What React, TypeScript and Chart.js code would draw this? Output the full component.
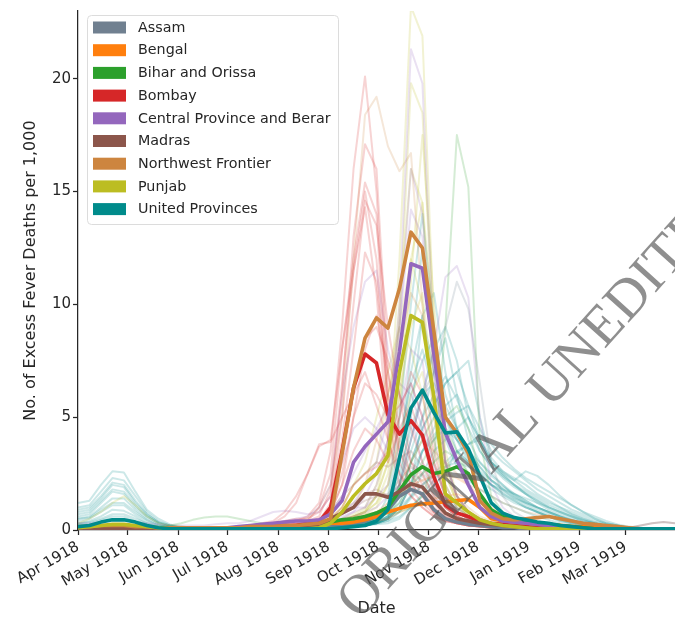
import React, { useEffect, useRef } from 'react';
import { Chart, registerables } from 'chart.js';

Chart.register(...registerables);

// Days since 1 Apr 1918 (weekly observations)
const WEEK_DAYS = [0,7,14,21,28,35,42,49,56,63,70,77,84,91,98,105,112,119,126,133,140,147,154,161,168,175,182,189,196,203,210,217,224,231,238,245,252,259,266,273,280,287,294,301,308,315,322,329,336,343,350,357,364];

const MONTH_TICKS = [0,30,61,91,122,153,183,214,244,275,306,334];
const MONTH_LABELS = ['Apr 1918','May 1918','Jun 1918','Jul 1918','Aug 1918','Sep 1918','Oct 1918','Nov 1918','Dec 1918','Jan 1919','Feb 1919','Mar 1919'];
const Y_TICKS = [0,5,10,15,20];

const PROVINCES = ['Assam','Bengal','Bihar and Orissa','Bombay','Central Province and Berar','Madras','Northwest Frontier','Punjab','United Provinces'];
const COLORS = ['#708090','#ff7f0e','#2ca02c','#d62728','#9467bd','#8c564b','#cd853f','#bcbd22','#008b8b'];

// Province-level series (bold lines)
const ASSAM = [0.05,0.05,0.05,0.05,0.05,0.05,0.05,0.05,0.05,0.05, 0.05,0.05,0.05,0.05,0.05,0.05,0.05,0.05,0.1,0.1, 0.15,0.15,0.2,0.25,0.3,0.4,0.6,0.9,1.5,1.8, 1.6,0.9,0.5,0.35,0.25,0.2,0.15,0.1,0.1,0.05, 0.05,0.05,0.05,0.05,0.05,0.05,0.05,0.05,0.05,0.05, 0.05,0.05,0.05];
const BENGAL = [0.05,0.05,0.05,0.05,0.05,0.05,0.05,0.05,0.05,0.05, 0.05,0.05,0.05,0.05,0.05,0.05,0.05,0.05,0.1,0.15, 0.2,0.25,0.3,0.3,0.35,0.45,0.6,0.8,0.95,1.1, 1.15,1.2,1.25,1.3,1.35,1.0,0.5,0.4,0.35,0.3, 0.3,0.25,0.2,0.15,0.15,0.1,0.1,0.05,0.05,0.05, 0.05,0.05,0.05];
const BIHAR = [0.05,0.05,0.05,0.05,0.05,0.05,0.05,0.05,0.05,0.05, 0.05,0.05,0.05,0.05,0.05,0.05,0.05,0.05,0.05,0.1, 0.1,0.15,0.35,0.45,0.5,0.6,0.75,1.0,1.75,2.45, 2.8,2.5,2.6,2.8,2.5,1.6,0.9,0.6,0.45,0.35, 0.3,0.25,0.2,0.15,0.1,0.05,0.05,0.05,0.05,0.05, 0.05,0.05,0.05];
const BOMBAY = [0.05,0.05,0.05,0.05,0.05,0.05,0.05,0.05,0.05,0.05, 0.05,0.05,0.05,0.05,0.1,0.1,0.15,0.15,0.2,0.2, 0.3,0.35,1.0,3.5,6.3,7.8,7.4,5.1,4.25,4.85, 4.2,2.35,1.1,0.75,0.6,0.4,0.3,0.25,0.2,0.15, 0.1,0.05,0.05,0.05,0.05,0.05,0.05,0.05,0.05,0.05, 0.05,0.05,0.05];
const CENTRAL = [0.1,0.1,0.1,0.1,0.1,0.1,0.1,0.1,0.05,0.05, 0.05,0.05,0.1,0.1,0.15,0.2,0.25,0.3,0.35,0.4, 0.4,0.45,0.7,1.3,3.0,3.7,4.25,4.8,7.9,11.8, 11.6,7.8,4.3,3.1,2.0,1.0,0.6,0.4,0.35,0.3, 0.25,0.2,0.15,0.1,0.05,0.05,0.05,0.05,0.05,0.05, 0.05,0.05,0.05];
const MADRAS = [0.05,0.05,0.05,0.05,0.05,0.05,0.05,0.05,0.05,0.05, 0.05,0.05,0.05,0.05,0.05,0.05,0.05,0.05,0.1,0.1, 0.1,0.2,0.5,0.75,1.0,1.6,1.6,1.45,1.7,2.05, 1.9,1.3,0.75,0.5,0.4,0.3,0.25,0.2,0.15,0.1, 0.05,0.05,0.05,0.05,0.05,0.05,0.05,0.05,0.05,0.05, 0.05,0.05,0.05];
const NWF = [0.15,0.15,0.2,0.2,0.2,0.15,0.15,0.1,0.1,0.1, 0.1,0.1,0.1,0.1,0.1,0.15,0.15,0.15,0.2,0.2, 0.25,0.3,0.5,3.4,6.3,8.5,9.4,8.95,10.7,13.2, 12.5,8.8,5.0,4.3,3.4,1.3,0.75,0.5,0.45,0.5, 0.55,0.6,0.5,0.4,0.3,0.25,0.2,0.15,0.1,0.05, 0.05,0.05,0.05];
const PUNJAB = [0.1,0.15,0.2,0.25,0.25,0.2,0.15,0.1,0.05,0.05, 0.05,0.05,0.05,0.05,0.05,0.05,0.05,0.05,0.05,0.05, 0.05,0.1,0.3,0.8,1.5,2.05,2.5,3.3,7.0,9.5, 9.2,5.9,1.6,1.2,0.8,0.45,0.3,0.2,0.15,0.1, 0.05,0.05,0.05,0.05,0.05,0.05,0.05,0.05,0.05,0.05, 0.05,0.05,0.05];
const UNITED = [0.15,0.2,0.35,0.45,0.45,0.35,0.2,0.1,0.05,0.05, 0.05,0.05,0.05,0.05,0.05,0.05,0.05,0.05,0.05,0.05, 0.05,0.05,0.05,0.1,0.15,0.2,0.4,0.9,3.2,5.4, 6.2,5.2,4.3,4.35,3.6,2.4,1.2,0.75,0.55,0.45, 0.35,0.3,0.2,0.15,0.1,0.05,0.05,0.05,0.05,0.05, 0.05,0.05,0.05];

// District-level series (faint lines)
const BOMBAY_D1 = [0.1,0.1,0.1,0.1,0.1,0.1,0.1,0.1,0.1,0.1, 0.1,0.1,0.1,0.1,0.1,0.1,0.15,0.2,0.3,0.4, 0.6,1.2,3.5,9,16,20.1,15,6,3,2, 1.5,0.8,0.5,0.3,0.2,0.15,0.1,0.1,0.1,0.1, 0.1,0.1,0.05,0.05,0.05,0.05,0.05,0.05,0.05,0.05, 0.05,0.05,0.05];
const BOMBAY_D2 = [0.1,0.1,0.1,0.1,0.1,0.1,0.1,0.1,0.1,0.1, 0.1,0.1,0.1,0.1,0.15,0.2,0.2,0.3,0.4,0.5, 0.5,0.8,1.5,6,13,17.1,16,7,3.5,2.5, 1.8,1,0.6,0.4,0.3,0.2,0.15,0.1,0.1,0.1, 0.1,0.05,0.05,0.05,0.05,0.05,0.05,0.05,0.05,0.05, 0.05,0.05,0.05];
const BOMBAY_D3 = [0.1,0.1,0.1,0.1,0.1,0.1,0.1,0.1,0.1,0.1, 0.1,0.1,0.1,0.1,0.1,0.1,0.15,0.2,0.25,0.3, 0.4,1,2.5,8,12,15.4,14,5,2.5,1.8, 1.2,0.7,0.4,0.3,0.2,0.15,0.1,0.1,0.1,0.1, 0.05,0.05,0.05,0.05,0.05,0.05,0.05,0.05,0.05,0.05, 0.05,0.05,0.05];
const BOMBAY_D4 = [0.1,0.1,0.1,0.1,0.1,0.1,0.1,0.1,0.1,0.1, 0.1,0.1,0.1,0.1,0.15,0.2,0.25,0.3,0.6,1.2, 2.5,3.7,4,8,11.5,15,12,5,4,2.5, 1.5,0.8,0.5,0.3,0.2,0.15,0.1,0.1,0.1,0.1, 0.05,0.05,0.05,0.05,0.05,0.05,0.05,0.05,0.05,0.05, 0.05,0.05,0.05];
const BOMBAY_D5 = [0.1,0.1,0.1,0.1,0.1,0.1,0.1,0.1,0.1,0.1, 0.1,0.1,0.1,0.1,0.1,0.1,0.15,0.2,0.2,0.25, 0.3,0.5,1,5,10,14.6,13.5,9,6,3, 2,1.2,0.6,0.4,0.3,0.2,0.15,0.1,0.1,0.1, 0.05,0.05,0.05,0.05,0.05,0.05,0.05,0.05,0.05,0.05, 0.05,0.05,0.05];
const BOMBAY_D6 = [0.1,0.1,0.1,0.1,0.1,0.1,0.1,0.1,0.1,0.1, 0.1,0.1,0.1,0.1,0.1,0.1,0.1,0.15,0.2,0.3, 0.4,0.6,1.8,6.5,11.5,14.3,10.5,4,2,1.5, 1,0.6,0.4,0.3,0.2,0.15,0.1,0.1,0.1,0.1, 0.05,0.05,0.05,0.05,0.05,0.05,0.05,0.05,0.05,0.05, 0.05,0.05,0.05];
const BOMBAY_D7 = [0.1,0.1,0.1,0.1,0.1,0.1,0.1,0.1,0.1,0.1, 0.1,0.1,0.1,0.1,0.1,0.1,0.1,0.15,0.2,0.25, 0.3,0.4,1.2,4,8,12.3,11,6,3.5,2, 1.5,0.8,0.5,0.3,0.2,0.15,0.1,0.1,0.1,0.1, 0.05,0.05,0.05,0.05,0.05,0.05,0.05,0.05,0.05,0.05, 0.05,0.05,0.05];
const BOMBAY_D8 = [0.1,0.1,0.1,0.1,0.1,0.1,0.1,0.1,0.1,0.1, 0.1,0.1,0.1,0.1,0.1,0.1,0.1,0.1,0.15,0.2, 0.2,0.3,0.8,2,5,8,9.5,7,4.5,3, 2.5,1.5,0.8,0.5,0.3,0.2,0.15,0.1,0.1,0.1, 0.05,0.05,0.05,0.05,0.05,0.05,0.05,0.05,0.05,0.05, 0.05,0.05,0.05];
const BOMBAY_D9 = [0.1,0.1,0.1,0.1,0.1,0.1,0.1,0.1,0.1,0.1, 0.1,0.1,0.1,0.1,0.15,0.2,0.3,0.4,0.8,1.5, 2.5,3.8,3.9,5,6,7,5.5,4,2.5,1.5, 1,0.6,0.4,0.3,0.2,0.15,0.1,0.1,0.1,0.1, 0.05,0.05,0.05,0.05,0.05,0.05,0.05,0.05,0.05,0.05, 0.05,0.05,0.05];
const BOMBAY_D10 = [0.1,0.1,0.1,0.1,0.1,0.1,0.1,0.1,0.1,0.1, 0.1,0.1,0.1,0.1,0.1,0.1,0.1,0.1,0.15,0.2, 0.2,0.3,0.8,2,3.5,4.5,4,3,4.5,5.5, 4,2,1,0.6,0.4,0.3,0.2,0.15,0.1,0.1, 0.05,0.05,0.05,0.05,0.05,0.05,0.05,0.05,0.05,0.05, 0.05,0.05,0.05];
const BOMBAY_D11 = [0.1,0.1,0.1,0.1,0.1,0.1,0.1,0.1,0.1,0.1, 0.1,0.1,0.1,0.1,0.1,0.1,0.1,0.1,0.15,0.2, 0.2,0.3,0.5,1,2,2.5,2.8,3.5,5,7, 6,3.5,1.5,0.8,0.5,0.3,0.2,0.15,0.1,0.1, 0.1,0.05,0.05,0.05,0.05,0.05,0.05,0.05,0.1,0.2, 0.3,0.35,0.3];
const BOMBAY_D12 = [0.1,0.1,0.1,0.1,0.1,0.1,0.1,0.1,0.1,0.1, 0.1,0.1,0.1,0.1,0.1,0.1,0.1,0.1,0.1,0.1, 0.2,0.4,1,3,6,8.5,9,7.5,6,4.5, 3,1.8,1,0.6,0.4,0.3,0.2,0.15,0.1,0.1, 0.05,0.05,0.05,0.05,0.05,0.05,0.05,0.05,0.05,0.05, 0.05,0.05,0.05];
const BOMBAY_D13 = [0.1,0.1,0.1,0.1,0.1,0.1,0.1,0.1,0.1,0.1, 0.1,0.1,0.1,0.1,0.1,0.1,0.1,0.1,0.1,0.1, 0.2,0.3,0.8,2.5,5,6.5,6,5,5.5,6.5, 5,3,1.5,0.8,0.5,0.3,0.2,0.15,0.1,0.1, 0.05,0.05,0.05,0.05,0.05,0.05,0.05,0.05,0.05,0.05, 0.05,0.05,0.05];

const CENTRAL_D1 = [0.1,0.1,0.1,0.1,0.1,0.1,0.1,0.1,0.1,0.1, 0.1,0.1,0.1,0.1,0.1,0.1,0.1,0.1,0.1,0.1, 0.2,0.3,0.5,0.8,1,1,2,4,10,21.3, 19.8,8,3,1.5,0.8,0.5,0.3,0.2,0.15,0.1, 0.1,0.1,0.05,0.05,0.05,0.05,0.05,0.05,0.05,0.05, 0.05,0.05,0.05];
const CENTRAL_D2 = [0.1,0.1,0.1,0.1,0.1,0.1,0.1,0.1,0.1,0.1, 0.1,0.1,0.1,0.1,0.1,0.1,0.1,0.1,0.1,0.1, 0.2,0.3,0.5,0.6,0.8,1.5,2.5,4,9,14.2, 13,7,3,1.5,0.8,0.5,0.3,0.2,0.15,0.1, 0.1,0.1,0.05,0.05,0.05,0.05,0.05,0.05,0.05,0.05, 0.05,0.05,0.05];
const CENTRAL_D3 = [0.1,0.1,0.1,0.1,0.1,0.1,0.1,0.1,0.1,0.1, 0.1,0.1,0.1,0.1,0.15,0.2,0.25,0.3,0.4,0.5, 0.6,1,2,6,9,11,11.5,8,6,5, 3,2,1.2,0.8,0.5,0.3,0.2,0.15,0.1,0.1, 0.1,0.1,0.05,0.05,0.05,0.05,0.05,0.05,0.05,0.05, 0.05,0.05,0.05];
const CENTRAL_D4 = [0.1,0.1,0.1,0.1,0.1,0.1,0.1,0.1,0.1,0.1, 0.1,0.1,0.1,0.1,0.1,0.1,0.1,0.1,0.1,0.1, 0.2,0.3,0.4,0.5,0.6,0.8,1,1.5,2,4, 6,8,11.2,11.7,10.3,5,2,1,0.6,0.4, 0.3,0.2,0.15,0.1,0.1,0.05,0.05,0.05,0.05,0.05, 0.05,0.05,0.05];
const CENTRAL_D5 = [0.1,0.1,0.1,0.1,0.1,0.1,0.1,0.1,0.1,0.1, 0.1,0.1,0.1,0.1,0.1,0.1,0.1,0.1,0.1,0.1, 0.2,0.3,0.4,0.5,0.8,1,1.5,2,5,8, 7.5,4,2,1,0.6,0.4,0.3,0.2,0.15,0.1, 0.1,0.1,0.05,0.05,0.05,0.05,0.05,0.05,0.05,0.05, 0.05,0.05,0.05];
const CENTRAL_D6 = [0.3,0.3,0.35,0.4,0.4,0.35,0.3,0.25,0.2,0.2, 0.2,0.2,0.25,0.3,0.3,0.4,0.6,0.8,0.85,0.8, 0.7,0.8,1.5,3,4.5,5,4.5,3.5,5.5,6.5, 5,3,1.5,0.8,0.5,0.3,0.2,0.15,0.1,0.1, 0.1,0.1,0.05,0.05,0.05,0.05,0.05,0.05,0.05,0.05, 0.05,0.05,0.05];
const CENTRAL_D7 = [0.1,0.1,0.1,0.1,0.1,0.1,0.1,0.1,0.1,0.1, 0.1,0.1,0.1,0.1,0.1,0.1,0.1,0.1,0.1,0.1, 0.2,0.3,0.5,0.8,1.2,2,3,5,9,16, 14,7,3,1.5,0.8,0.5,0.3,0.2,0.15,0.1, 0.1,0.1,0.05,0.05,0.05,0.05,0.05,0.05,0.05,0.05, 0.05,0.05,0.05];
const CENTRAL_D8 = [0.1,0.1,0.1,0.1,0.1,0.1,0.1,0.1,0.1,0.1, 0.1,0.1,0.1,0.1,0.1,0.1,0.1,0.1,0.1,0.1, 0.2,0.4,0.8,1.5,2.5,3.5,4.5,5.5,6.5,6, 4.5,2.8,1.5,0.8,0.5,0.3,0.2,0.15,0.1,0.1, 0.1,0.1,0.05,0.05,0.05,0.05,0.05,0.05,0.05,0.05, 0.05,0.05,0.05];

const PUNJAB_D1 = [0.1,0.1,0.1,0.1,0.1,0.1,0.1,0.1,0.1,0.1, 0.1,0.1,0.1,0.1,0.1,0.1,0.1,0.1,0.1,0.1, 0.1,0.2,0.3,0.4,0.6,0.8,1.5,4,12,23.2, 21.9,9,3,1.5,0.8,0.5,0.3,0.2,0.1,0.1, 0.05,0.05,0.05,0.05,0.05,0.05,0.05,0.05,0.05,0.05, 0.05,0.05,0.05];
const PUNJAB_D2 = [0.1,0.1,0.1,0.1,0.1,0.1,0.1,0.1,0.1,0.1, 0.1,0.1,0.1,0.1,0.1,0.1,0.1,0.1,0.1,0.1, 0.1,0.2,0.3,0.4,0.6,0.8,1.5,3,9,19.8, 18.5,8,2.5,1.2,0.6,0.4,0.3,0.2,0.1,0.1, 0.05,0.05,0.05,0.05,0.05,0.05,0.05,0.05,0.05,0.05, 0.05,0.05,0.05];
const PUNJAB_D3 = [0.1,0.1,0.1,0.1,0.1,0.1,0.1,0.1,0.1,0.1, 0.1,0.1,0.1,0.1,0.1,0.1,0.1,0.1,0.1,0.1, 0.1,0.2,0.3,0.5,0.7,1,2,3.5,10,16, 14.5,6,2,1,0.6,0.4,0.3,0.2,0.1,0.1, 0.05,0.05,0.05,0.05,0.05,0.05,0.05,0.05,0.05,0.05, 0.05,0.05,0.05];
const PUNJAB_D4 = [0.1,0.1,0.1,0.1,0.1,0.1,0.1,0.1,0.1,0.1, 0.1,0.1,0.1,0.1,0.1,0.1,0.1,0.1,0.1,0.1, 0.1,0.2,0.3,0.4,0.6,0.8,1.2,2.5,6,12, 14.5,9,3,1.2,0.6,0.4,0.3,0.2,0.1,0.1, 0.05,0.05,0.05,0.05,0.05,0.05,0.05,0.05,0.05,0.05, 0.05,0.05,0.05];
const PUNJAB_D5 = [0.1,0.1,0.1,0.1,0.1,0.1,0.1,0.1,0.1,0.1, 0.1,0.1,0.1,0.1,0.1,0.1,0.1,0.1,0.1,0.1, 0.2,0.3,0.5,1,2,2.5,3,6,9,12, 10,5,2,1,0.6,0.4,0.3,0.2,0.1,0.1, 0.05,0.05,0.05,0.05,0.05,0.05,0.05,0.05,0.05,0.05, 0.05,0.05,0.05];
const PUNJAB_D6 = [0.1,0.1,0.1,0.1,0.1,0.1,0.1,0.1,0.1,0.1, 0.1,0.1,0.1,0.1,0.1,0.1,0.1,0.1,0.1,0.1, 0.2,0.3,0.5,1,2,3,5,7,9,8, 6,3,1.5,0.8,0.5,0.3,0.2,0.15,0.1,0.1, 0.05,0.05,0.05,0.05,0.05,0.05,0.05,0.05,0.05,0.05, 0.05,0.05,0.05];
const PUNJAB_D7 = [0.3,0.5,0.8,1.2,1.5,1.1,0.6,0.3,0.2,0.15, 0.1,0.1,0.1,0.1,0.1,0.1,0.1,0.1,0.1,0.1, 0.1,0.2,0.3,0.4,0.5,0.7,1,2,4,6, 7,4,1.5,0.8,0.5,0.3,0.2,0.15,0.1,0.1, 0.05,0.05,0.05,0.05,0.05,0.05,0.05,0.05,0.05,0.05, 0.05,0.05,0.05];
const PUNJAB_D8 = [0.1,0.1,0.1,0.1,0.1,0.1,0.1,0.1,0.1,0.1, 0.1,0.1,0.1,0.1,0.1,0.1,0.1,0.1,0.1,0.1, 0.1,0.2,0.3,0.4,0.6,0.8,1.2,2,5,11, 17.5,10,3.5,1.5,0.8,0.5,0.3,0.2,0.1,0.1, 0.05,0.05,0.05,0.05,0.05,0.05,0.05,0.05,0.05,0.05, 0.05,0.05,0.05];
const PUNJAB_D9 = [0.1,0.1,0.1,0.1,0.1,0.1,0.1,0.1,0.1,0.1, 0.1,0.1,0.1,0.1,0.1,0.1,0.1,0.1,0.1,0.1, 0.1,0.2,0.3,0.4,0.6,0.9,1.5,3,6,9, 10.5,6,2.5,1.2,0.6,0.4,0.3,0.2,0.1,0.1, 0.05,0.05,0.05,0.05,0.05,0.05,0.05,0.05,0.05,0.05, 0.05,0.05,0.05];

const NWF_D1 = [0.1,0.1,0.1,0.1,0.1,0.1,0.1,0.1,0.1,0.1, 0.1,0.1,0.1,0.1,0.1,0.15,0.2,0.25,0.3,0.4, 0.5,1,2,5,12,18.4,19.2,17,15.9,16.7, 10,5,2.5,1.5,1,0.6,0.4,0.3,0.2,0.15, 0.1,0.1,0.1,0.05,0.05,0.05,0.05,0.05,0.05,0.05, 0.05,0.05,0.05];
const NWF_D2 = [0.1,0.1,0.1,0.1,0.1,0.1,0.1,0.1,0.1,0.1, 0.1,0.1,0.1,0.1,0.1,0.1,0.1,0.1,0.15,0.2, 0.2,0.3,0.5,0.8,1,2,4,6,8,10.5, 9.5,6,3,1.5,0.8,0.5,0.3,0.2,0.15,0.1, 0.1,0.1,0.05,0.05,0.05,0.05,0.05,0.05,0.05,0.05, 0.05,0.05,0.05];
const NWF_D3 = [0.1,0.1,0.1,0.1,0.1,0.1,0.1,0.1,0.1,0.1, 0.1,0.1,0.1,0.1,0.1,0.1,0.1,0.1,0.15,0.2, 0.2,0.3,0.4,0.5,0.6,0.7,0.8,1,2,3, 4,3.5,3,2.5,2,1.8,1.5,1.2,1,0.8, 0.7,0.6,0.5,0.4,0.3,0.2,0.15,0.1,0.1,0.05, 0.05,0.05,0.05];

const UNITED_D1 = [1.2,1.3,2,2.6,2.55,1.7,0.9,0.5,0.25,0.15, 0.1,0.1,0.1,0.1,0.1,0.1,0.1,0.1,0.1,0.1, 0.1,0.1,0.15,0.2,0.25,0.3,0.5,1.5,5,10, 14,9,5,3.5,3,2.5,2,1.6,1.3,1, 0.8,0.6,0.5,0.4,0.3,0.2,0.15,0.1,0.1,0.05, 0.05,0.05,0.05];
const UNITED_D2 = [1,1.1,1.7,2.3,2.2,1.5,0.8,0.4,0.2,0.1, 0.1,0.1,0.1,0.1,0.1,0.1,0.1,0.1,0.1,0.1, 0.1,0.1,0.1,0.15,0.2,0.3,0.5,1,2,4, 6,8,9,7.5,5,3.5,2.8,2.4,2,1.7, 1.4,1.1,0.9,0.7,0.5,0.35,0.25,0.15,0.1,0.05, 0.05,0.05,0.05];
const UNITED_D3 = [0.8,0.9,1.4,2,1.9,1.2,0.7,0.35,0.2,0.1, 0.1,0.1,0.1,0.1,0.1,0.1,0.1,0.1,0.1,0.1, 0.1,0.1,0.1,0.15,0.2,0.3,0.4,1.2,4,6.5, 8,6,5,4,3.2,2.6,2.2,1.9,1.6,1.3, 1,0.8,0.6,0.45,0.3,0.2,0.1,0.1,0.05,0.05, 0.05,0.05,0.05];
const UNITED_D4 = [0.6,0.7,1.2,1.7,1.6,1,0.6,0.3,0.15,0.1, 0.1,0.1,0.1,0.1,0.1,0.1,0.1,0.1,0.1,0.1, 0.1,0.1,0.1,0.15,0.2,0.3,0.5,0.8,1.5,3, 4.5,5.5,6.5,7,7.5,5,3,2.5,2.2,1.8, 1.5,1.2,1,0.8,0.6,0.4,0.3,0.2,0.1,0.05, 0.05,0.05,0.05];
const UNITED_D5 = [0.5,0.6,1,1.4,1.4,0.9,0.5,0.25,0.1,0.1, 0.1,0.1,0.1,0.1,0.1,0.1,0.1,0.1,0.1,0.1, 0.1,0.1,0.1,0.15,0.2,0.3,0.4,0.8,2.5,4.5, 6,6.5,5.5,4.5,3.5,2.8,2.2,1.8,1.4,1.1, 0.8,0.6,0.4,0.3,0.2,0.15,0.1,0.05,0.05,0.05, 0.05,0.05,0.05];
const UNITED_D6 = [0.4,0.5,0.8,1.1,1.1,0.7,0.4,0.2,0.1,0.1, 0.1,0.1,0.1,0.1,0.1,0.1,0.1,0.1,0.1,0.1, 0.1,0.1,0.1,0.15,0.2,0.3,0.4,0.6,1,2, 3.5,4.5,5.5,6,5,4,3,2.6,2.3,2, 1.6,1.3,1,0.7,0.5,0.3,0.2,0.1,0.05,0.05, 0.05,0.05,0.05];
const UNITED_D7 = [0.3,0.4,0.6,0.9,0.85,0.6,0.3,0.15,0.1,0.1, 0.1,0.1,0.1,0.1,0.1,0.1,0.1,0.1,0.1,0.1, 0.1,0.1,0.1,0.1,0.15,0.2,0.3,0.5,0.8,1.5, 2.5,3.5,4,4.5,5,4,3,2.5,2,1.6, 1.2,0.9,0.7,0.5,0.35,0.25,0.15,0.1,0.05,0.05, 0.05,0.05,0.05];
const UNITED_D8 = [0.3,0.35,0.5,0.7,0.7,0.5,0.3,0.1,0.1,0.1, 0.1,0.1,0.1,0.1,0.1,0.1,0.1,0.1,0.1,0.1, 0.1,0.1,0.1,0.1,0.15,0.2,0.3,0.5,1,2, 3.5,4,4.5,4,3.5,3,2.5,2,1.5,1.2, 1,0.8,0.6,0.4,0.3,0.2,0.1,0.05,0.05,0.05, 0.05,0.05,0.05];
const UNITED_D9 = [0.2,0.25,0.35,0.5,0.5,0.35,0.2,0.1,0.1,0.1, 0.1,0.1,0.1,0.1,0.1,0.1,0.1,0.1,0.1,0.1, 0.1,0.1,0.1,0.1,0.15,0.2,0.3,0.5,1,1.5, 2,2.5,3,3.5,3.8,4,3.2,2.6,2.2,2.6, 2.4,2,1.5,1.1,0.8,0.5,0.3,0.2,0.1,0.05, 0.05,0.05,0.05];
const UNITED_D10 = [0.1,0.1,0.1,0.1,0.1,0.1,0.1,0.1,0.1,0.1, 0.1,0.1,0.1,0.1,0.1,0.1,0.1,0.1,0.1,0.1, 0.1,0.1,0.1,0.1,0.15,0.2,0.25,0.3,0.5,1, 1.5,2,2.5,3.5,3,2.5,2,1.8,1.6,1.4, 1.2,1,0.8,0.6,0.4,0.3,0.2,0.1,0.1,0.2, 0.3,0.35,0.3];
const UNITED_D11 = [0.1,0.1,0.1,0.1,0.1,0.1,0.1,0.1,0.1,0.1, 0.1,0.1,0.1,0.1,0.1,0.1,0.1,0.1,0.1,0.1, 0.1,0.1,0.1,0.1,0.15,0.2,0.3,0.5,1,2, 5,7,8.5,6,4,3,2.4,2,1.6,1.3, 1,0.8,0.6,0.4,0.3,0.2,0.1,0.05,0.05,0.05, 0.05,0.05,0.05];
const UNITED_D12 = [0.1,0.1,0.1,0.1,0.1,0.1,0.1,0.1,0.1,0.1, 0.1,0.1,0.1,0.1,0.1,0.1,0.1,0.1,0.1,0.1, 0.1,0.1,0.1,0.1,0.15,0.2,0.3,0.6,2,5, 9.5,7,5,4,3,2.2,1.8,1.5,1.2,1, 0.8,0.6,0.4,0.3,0.2,0.1,0.05,0.05,0.05,0.05, 0.05,0.05,0.05];
const UNITED_D13 = [0.25,0.3,0.45,0.6,0.6,0.4,0.25,0.1,0.1,0.1, 0.1,0.1,0.1,0.1,0.1,0.1,0.1,0.1,0.1,0.1, 0.1,0.1,0.1,0.1,0.15,0.2,0.3,0.5,1.5,3, 4.5,5.5,6.5,7,5.5,4,3,2.4,2,1.6, 1.3,1,0.8,0.6,0.4,0.3,0.2,0.1,0.05,0.05, 0.05,0.05,0.05];
const UNITED_D14 = [0.9,1,1.5,2.1,2,1.3,0.7,0.35,0.2,0.1, 0.1,0.1,0.1,0.1,0.1,0.1,0.1,0.1,0.1,0.1, 0.1,0.1,0.1,0.15,0.2,0.3,0.4,0.6,1.2,2.5, 3.5,4.2,4.8,5.2,5.5,4.5,3.5,3,2.6,2.2, 1.8,1.5,1.2,0.9,0.7,0.5,0.3,0.2,0.1,0.05, 0.05,0.05,0.05];
const UNITED_D15 = [0.1,0.1,0.1,0.1,0.1,0.1,0.1,0.1,0.1,0.1, 0.1,0.1,0.1,0.1,0.1,0.1,0.1,0.1,0.1,0.1, 0.1,0.1,0.1,0.15,0.2,0.3,0.5,1,3,6, 7.5,8.5,6,4.5,3.5,2.8,2.2,1.8,1.5,1.2, 0.9,0.7,0.5,0.35,0.25,0.15,0.1,0.05,0.05,0.05, 0.05,0.05,0.05];
const UNITED_D16 = [0.7,0.8,1.3,1.8,1.7,1.1,0.6,0.3,0.15,0.1, 0.1,0.1,0.1,0.1,0.1,0.1,0.1,0.1,0.1,0.1, 0.1,0.1,0.1,0.1,0.15,0.2,0.4,0.8,2,3.5, 5,6,6.8,5.8,4.5,3.5,2.8,2.3,1.9,1.6, 1.3,1,0.8,0.6,0.45,0.3,0.2,0.1,0.05,0.05, 0.05,0.05,0.05];
const UNITED_D17 = [0.1,0.1,0.1,0.1,0.1,0.1,0.1,0.1,0.1,0.1, 0.1,0.1,0.1,0.1,0.1,0.1,0.1,0.1,0.1,0.1, 0.1,0.1,0.1,0.1,0.15,0.2,0.3,0.4,0.6,1, 1.6,2.2,2.8,3.4,3.8,4.2,3.8,3.2,2.7,2.3, 2,1.7,1.4,1.1,0.8,0.6,0.4,0.25,0.15,0.1, 0.05,0.05,0.05];
const UNITED_D18 = [0.1,0.1,0.1,0.1,0.1,0.1,0.1,0.1,0.1,0.1, 0.1,0.1,0.1,0.1,0.1,0.1,0.1,0.1,0.1,0.1, 0.1,0.1,0.1,0.1,0.15,0.25,0.4,0.8,3,7, 9.5,10.5,7,4.5,3.2,2.5,2,1.6,1.3,1, 0.8,0.6,0.45,0.3,0.2,0.1,0.05,0.05,0.05,0.05, 0.05,0.05,0.05];
const UNITED_D19 = [0.5,0.55,0.9,1.2,1.2,0.8,0.45,0.2,0.1,0.1, 0.1,0.1,0.1,0.1,0.1,0.1,0.1,0.1,0.1,0.1, 0.1,0.1,0.1,0.1,0.15,0.2,0.3,0.4,0.8,1.4, 2,2.4,2.8,3,2.8,2.4,2,1.7,1.4,1.2, 1,0.8,0.6,0.45,0.3,0.2,0.15,0.1,0.05,0.05, 0.05,0.05,0.05];
const UNITED_D20 = [0.1,0.1,0.1,0.1,0.1,0.1,0.1,0.1,0.1,0.1, 0.1,0.1,0.1,0.1,0.1,0.1,0.1,0.1,0.1,0.1, 0.1,0.1,0.1,0.1,0.15,0.2,0.3,0.6,3,8, 12.5,8,4,2.8,2.2,1.8,1.5,1.2,1,0.8, 0.6,0.45,0.3,0.2,0.15,0.1,0.05,0.05,0.05,0.05, 0.05,0.05,0.05];

const BIHAR_D1 = [0.1,0.1,0.1,0.1,0.1,0.1,0.1,0.1,0.1,0.1, 0.1,0.1,0.1,0.1,0.1,0.1,0.1,0.1,0.1,0.1, 0.1,0.1,0.2,0.3,0.4,0.5,0.6,0.7,0.8,1, 1.5,3,9,17.5,15.2,4,1.5,0.8,0.5,0.3, 0.2,0.15,0.1,0.1,0.05,0.05,0.05,0.05,0.05,0.05, 0.05,0.05,0.05];
const BIHAR_D2 = [0.1,0.1,0.1,0.1,0.1,0.1,0.1,0.15,0.2,0.3, 0.45,0.55,0.6,0.6,0.5,0.4,0.3,0.25,0.2,0.2, 0.2,0.2,0.3,0.4,0.5,0.6,0.8,1,1.5,3, 4,5,4.5,3.5,2.5,1.5,0.8,0.5,0.3,0.2, 0.15,0.1,0.1,0.05,0.05,0.05,0.05,0.05,0.05,0.05, 0.05,0.05,0.05];
const BIHAR_D3 = [0.1,0.1,0.1,0.1,0.1,0.1,0.1,0.1,0.1,0.1, 0.1,0.1,0.1,0.1,0.1,0.1,0.1,0.1,0.1,0.1, 0.1,0.1,0.2,0.3,0.4,0.5,0.6,0.8,1.5,2, 2.5,3,3.5,3.2,2.5,1.5,0.8,0.5,0.3,0.2, 0.15,0.1,0.1,0.05,0.05,0.05,0.05,0.05,0.05,0.05, 0.05,0.05,0.05];
const BIHAR_D4 = [0.1,0.1,0.1,0.1,0.1,0.1,0.1,0.1,0.1,0.1, 0.1,0.1,0.1,0.1,0.1,0.1,0.1,0.1,0.1,0.1, 0.1,0.1,0.2,0.3,0.4,0.5,0.6,0.8,1.2,2, 3,4,5,5.5,4.5,2.5,1.2,0.6,0.4,0.3, 0.2,0.15,0.1,0.1,0.05,0.05,0.05,0.05,0.05,0.05, 0.05,0.05,0.05];

const MADRAS_D1 = [0.1,0.1,0.1,0.1,0.1,0.1,0.1,0.1,0.1,0.1, 0.1,0.1,0.1,0.1,0.1,0.1,0.1,0.1,0.1,0.15, 0.2,0.4,0.8,1.5,2,2.5,3,2.8,3.2,3.5, 2.8,1.8,1,0.6,0.4,0.3,0.2,0.15,0.1,0.1, 0.05,0.05,0.05,0.05,0.05,0.05,0.05,0.05,0.05,0.05, 0.05,0.05,0.05];
const MADRAS_D2 = [0.1,0.1,0.1,0.1,0.1,0.1,0.1,0.1,0.1,0.1, 0.1,0.1,0.1,0.1,0.1,0.1,0.1,0.1,0.1,0.15, 0.2,0.3,0.5,0.8,1.2,1.6,1.8,1.5,2,2.5, 2.2,1.5,0.8,0.5,0.3,0.2,0.15,0.1,0.1,0.1, 0.05,0.05,0.05,0.05,0.05,0.05,0.05,0.05,0.05,0.05, 0.05,0.05,0.05];
const MADRAS_D3 = [0.1,0.1,0.1,0.1,0.1,0.1,0.1,0.1,0.1,0.1, 0.1,0.1,0.1,0.1,0.1,0.1,0.1,0.1,0.1,0.1, 0.15,0.25,0.4,0.7,1,1.3,1.5,1.6,2.2,2.8, 2.4,1.6,1,0.6,0.4,0.3,0.2,0.15,0.1,0.1, 0.05,0.05,0.05,0.05,0.05,0.05,0.05,0.05,0.05,0.05, 0.05,0.05,0.05];

const BENGAL_D1 = [0.1,0.1,0.1,0.1,0.1,0.1,0.1,0.1,0.1,0.1, 0.1,0.1,0.1,0.1,0.1,0.1,0.1,0.1,0.1,0.15, 0.2,0.25,0.3,0.35,0.4,0.5,0.8,1.2,1.6,2, 2.2,2.4,2.5,2.3,2,1.5,1,0.7,0.5,0.4, 0.35,0.3,0.25,0.2,0.15,0.1,0.1,0.05,0.05,0.05, 0.05,0.05,0.05];
const BENGAL_D2 = [0.1,0.1,0.1,0.1,0.1,0.1,0.1,0.1,0.1,0.1, 0.1,0.1,0.1,0.1,0.1,0.1,0.1,0.1,0.1,0.1, 0.1,0.15,0.2,0.25,0.3,0.35,0.4,0.5,0.8,1, 1.2,1.4,1.5,1.6,1.4,1,0.6,0.4,0.3,0.2, 0.15,0.1,0.1,0.05,0.05,0.05,0.05,0.05,0.05,0.05, 0.05,0.05,0.05];

const ASSAM_D1 = [0.1,0.1,0.1,0.1,0.1,0.1,0.1,0.1,0.1,0.1, 0.1,0.1,0.1,0.1,0.1,0.1,0.1,0.1,0.1,0.1, 0.1,0.15,0.2,0.3,0.4,0.5,0.7,1,2,4, 6,7,9,11,9.8,6.5,3,1.5,0.8,0.5, 0.3,0.2,0.1,0.1,0.05,0.05,0.05,0.05,0.05,0.05, 0.05,0.05,0.05];
const ASSAM_D2 = [0.1,0.1,0.1,0.1,0.1,0.1,0.1,0.1,0.1,0.1, 0.1,0.1,0.1,0.1,0.1,0.1,0.1,0.1,0.1,0.1, 0.1,0.1,0.15,0.2,0.25,0.3,0.4,0.5,1,2, 2.5,2,1.5,1,0.6,0.4,0.3,0.2,0.15,0.1, 0.1,0.05,0.05,0.05,0.05,0.05,0.05,0.05,0.05,0.05, 0.05,0.05,0.05];

const PROVINCE_SERIES = [ASSAM, BENGAL, BIHAR, BOMBAY, CENTRAL, MADRAS, NWF, PUNJAB, UNITED];
const DISTRICT_SERIES = [
  [ASSAM_D1, ASSAM_D2],
  [BENGAL_D1, BENGAL_D2],
  [BIHAR_D1, BIHAR_D2, BIHAR_D3, BIHAR_D4],
  [BOMBAY_D1, BOMBAY_D2, BOMBAY_D3, BOMBAY_D4, BOMBAY_D5, BOMBAY_D6, BOMBAY_D7, BOMBAY_D8, BOMBAY_D9, BOMBAY_D10, BOMBAY_D11, BOMBAY_D12, BOMBAY_D13],
  [CENTRAL_D1, CENTRAL_D2, CENTRAL_D3, CENTRAL_D4, CENTRAL_D5, CENTRAL_D6, CENTRAL_D7, CENTRAL_D8],
  [MADRAS_D1, MADRAS_D2, MADRAS_D3],
  [NWF_D1, NWF_D2, NWF_D3],
  [PUNJAB_D1, PUNJAB_D2, PUNJAB_D3, PUNJAB_D4, PUNJAB_D5, PUNJAB_D6, PUNJAB_D7, PUNJAB_D8, PUNJAB_D9],
  [UNITED_D1, UNITED_D2, UNITED_D3, UNITED_D4, UNITED_D5, UNITED_D6, UNITED_D7, UNITED_D8, UNITED_D9, UNITED_D10, UNITED_D11, UNITED_D12, UNITED_D13, UNITED_D14, UNITED_D15, UNITED_D16, UNITED_D17, UNITED_D18, UNITED_D19, UNITED_D20],
];

const FONT = "'DejaVu Sans', sans-serif";
const TEXT_COLOR = '#262626';

function hexA(hex: string, a: number) {
  const n = parseInt(hex.slice(1), 16);
  return `rgba(${(n >> 16) & 255},${(n >> 8) & 255},${n & 255},${a})`;
}

const overlayPlugin = {
  id: 'overlay',
  afterDraw(chart: any) {
    const ctx = chart.ctx as CanvasRenderingContext2D;
    ctx.save();
    // legend box
    const bx = 87.5, by = 15.5, bw = 251, bh = 209, r = 4;
    ctx.beginPath();
    ctx.moveTo(bx + r, by);
    ctx.arcTo(bx + bw, by, bx + bw, by + bh, r);
    ctx.arcTo(bx + bw, by + bh, bx, by + bh, r);
    ctx.arcTo(bx, by + bh, bx, by, r);
    ctx.arcTo(bx, by, bx + bw, by, r);
    ctx.closePath();
    ctx.fillStyle = 'rgba(255,255,255,0.85)';
    ctx.fill();
    ctx.strokeStyle = '#dcdcdc';
    ctx.lineWidth = 1;
    ctx.stroke();
    ctx.font = `14.3px ${FONT}`;
    ctx.textBaseline = 'middle';
    ctx.textAlign = 'left';
    PROVINCES.forEach((name, i) => {
      const cy = 27.5 + i * 22.7;
      ctx.fillStyle = COLORS[i];
      ctx.fillRect(93, cy - 6, 33, 12);
      ctx.fillStyle = TEXT_COLOR;
      ctx.fillText(name, 138, cy + 0.5);
    });
    // watermark
    ctx.translate(360, 621);
    ctx.rotate(-48 * Math.PI / 180);
    ctx.font = `56px 'Liberation Serif', serif`;
    ctx.fillStyle = 'rgba(90,90,90,0.68)';
    ctx.textBaseline = 'alphabetic';
    ctx.fillText('ORIGINAL UNEDITED', 0, 0);
    ctx.restore();
  },
};

export default function App() {
  const ref = useRef<HTMLCanvasElement | null>(null);
  useEffect(() => {
    document.body.style.margin = '0';
    const canvas = ref.current;
    if (!canvas) return;
    const datasets: any[] = [];
    PROVINCE_SERIES.forEach((series, i) => {
      datasets.push({
        label: PROVINCES[i],
        data: WEEK_DAYS.map((d, k) => ({ x: d, y: series[k] })),
        borderColor: COLORS[i],
        borderWidth: 3.6,
        order: 9 - i,
        borderJoinStyle: 'round',
        borderCapStyle: 'round',
      });
    });
    DISTRICT_SERIES.forEach((group, i) => {
      group.forEach((series) => {
        datasets.push({
          label: '',
          data: WEEK_DAYS.map((d, k) => ({ x: d, y: series[k] })),
          borderColor: hexA(COLORS[i], 0.2),
          borderWidth: 2,
          order: 20,
          borderJoinStyle: 'round',
        });
      });
    });
    const chart = new Chart(canvas, {
      type: 'line',
      data: { datasets },
      options: {
        animation: false,
        responsive: false,
        maintainAspectRatio: false,
        devicePixelRatio: 1,
        layout: { padding: { top: 8, right: 0, left: 0, bottom: 0 } },
        elements: { point: { radius: 0 }, line: { tension: 0 } },
        plugins: { legend: { display: false }, tooltip: { enabled: false } },
        scales: {
          x: {
            type: 'linear',
            min: 0,
            max: 364,
            afterBuildTicks: (s: any) => { s.ticks = MONTH_TICKS.map((v) => ({ value: v })); },
            afterFit: (s: any) => { s.height = 88; },
            ticks: {
              autoSkip: false,
              minRotation: 30,
              maxRotation: 30,
              padding: 3,
              color: TEXT_COLOR,
              font: { family: FONT, size: 15 },
              callback: (v: any) => {
                const idx = MONTH_TICKS.indexOf(Number(v));
                return idx >= 0 ? MONTH_LABELS[idx] : '';
              },
            },
            grid: { drawOnChartArea: false, drawTicks: true, tickLength: 5, tickColor: TEXT_COLOR, tickWidth: 1.25 },
            border: { display: true, color: TEXT_COLOR, width: 1.25 },
            title: { display: true, text: 'Date', color: TEXT_COLOR, font: { family: FONT, size: 16 }, padding: { top: 0, bottom: 0 } },
          },
          y: {
            type: 'linear',
            min: 0,
            max: 23,
            afterBuildTicks: (s: any) => { s.ticks = Y_TICKS.map((v) => ({ value: v })); },
            afterFit: (s: any) => { s.width = 78; },
            ticks: { padding: 2, color: TEXT_COLOR, font: { family: FONT, size: 15 } },
            grid: { drawOnChartArea: false, drawTicks: true, tickLength: 5, tickColor: TEXT_COLOR, tickWidth: 1.25 },
            border: { display: true, color: TEXT_COLOR, width: 1.25 },
            title: { display: true, text: 'No. of Excess Fever Deaths per 1,000', color: TEXT_COLOR, font: { family: FONT, size: 16 }, padding: { top: 21, bottom: 0 } },
          },
        },
      },
      plugins: [overlayPlugin],
    } as any);
    return () => chart.destroy();
  }, []);
  return (
    <div style={{ position: 'absolute', left: 0, top: 0, width: 675, height: 618 }}>
      <canvas ref={ref} width={675} height={618} style={{ display: 'block', width: 675, height: 618 }} />
    </div>
  );
}
